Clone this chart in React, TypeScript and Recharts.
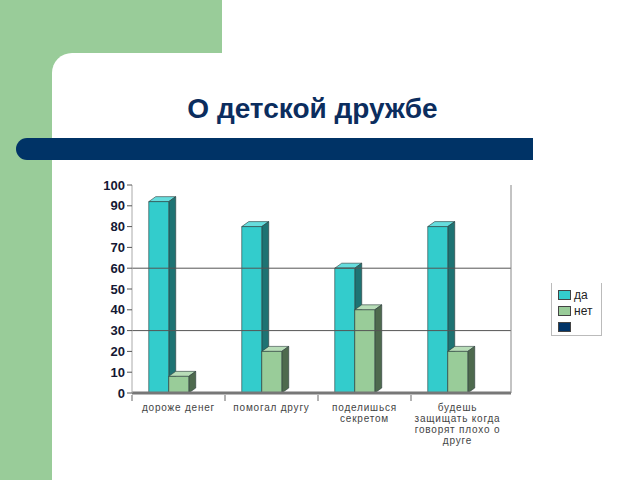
import { BarChart, Bar, XAxis, YAxis, ReferenceLine } from 'recharts';

const categories = [
  'дороже денег',
  'помогал другу',
  'поделишься\nсекретом',
  'будешь\nзащищать когда\nговорят плохо о\nдруге',
];
const yesValues = [92, 80, 60, 80];
const noValues = [8, 20, 40, 20];
const yTicks = [0, 10, 20, 30, 40, 50, 60, 70, 80, 90, 100];
const gridValues = [30, 60];

const SERIES = [
  { key: 'yes', name: 'да', front: '#33CCCC', top: '#66DDDD', side: '#1E7373' },
  { key: 'no', name: 'нет', front: '#99CC99', top: '#B8DDB8', side: '#4E6A4E' },
  { key: 'blank', name: '', front: '#003366', top: '#335C85', side: '#00203F' },
];

const data = categories.map((name, i) => ({
  name,
  yes: yesValues[i],
  no: noValues[i],
  blank: null,
}));

const DX = 7;
const DY = 5;

const make3D = (s: typeof SERIES[number]) => (props: any) => {
  const { x, y, width, height } = props;
  if (!height || height <= 0 || x == null) return null;
  const r = x + width;
  const b = y + height;
  return (
    <g stroke="#2a3a3a" strokeWidth={0.6} strokeLinejoin="round">
      <polygon points={`${x},${y} ${x + DX},${y - DY} ${r + DX},${y - DY} ${r},${y}`} fill={s.top} />
      <polygon points={`${r},${y} ${r + DX},${y - DY} ${r + DX},${b - DY} ${r},${b}`} fill={s.side} />
      <rect x={x} y={y} width={width} height={height} fill={s.front} />
    </g>
  );
};

const CategoryTick = ({ x, y, payload }: any) => {
  const lines = String(payload.value).split('\n');
  const edge = x - (payload.offset || 0);
  return (
    <g>
      <line x1={edge} x2={edge} y1={y - 6} y2={y} stroke="#666" strokeWidth={1} />
      <text x={x} y={y + 10} textAnchor="middle" fontSize={10} letterSpacing={0.8} fill="#444" fontFamily="Arial, 'Liberation Sans', sans-serif">
        {lines.map((l, i) => (
          <tspan key={i} x={x} dy={i === 0 ? 0 : 11}>{l}</tspan>
        ))}
      </text>
    </g>
  );
};

const LegendBox = () => (
  <div style={{
    position: 'absolute', left: 551, top: 283,
    border: '1px solid #bbb', borderTop: 'none', width: 51, height: 53, boxSizing: 'border-box',
    padding: '4px 0 0 6px', fontFamily: "Arial, 'Liberation Sans', sans-serif", fontSize: 12, color: '#222',
  }}>
    {SERIES.map((s) => (
      <div key={s.key} style={{ display: 'flex', alignItems: 'center', height: 16 }}>
        <div style={{ width: 11, height: 8, background: s.front, border: '0.5px solid #444', marginRight: 3 }} />
        <span>{s.name}</span>
      </div>
    ))}
  </div>
);

export default function App() {
  return (
    <div style={{ position: 'absolute', left: 0, top: 0, width: 640, height: 480, background: '#fff', overflow: 'hidden' }}>
      <div style={{ position: 'absolute', left: 0, top: 0, width: 222, height: 100, background: '#99CC99' }} />
      <div style={{ position: 'absolute', left: 0, top: 0, width: 52, height: 480, background: '#99CC99' }} />
      <div style={{ position: 'absolute', left: 52, top: 53, width: 200, height: 60, background: '#fff', borderTopLeftRadius: 20 }} />
      <div style={{
        position: 'absolute', left: 0, top: 93, width: 625, textAlign: 'center',
        fontFamily: "Arial, 'Liberation Sans', sans-serif", fontWeight: 'bold', fontSize: 28, color: '#0B2D5E',
      }}>О детской дружбе</div>
      <div style={{ position: 'absolute', left: 16, top: 138, width: 517, height: 22, background: '#003366', borderTopLeftRadius: 11, borderBottomLeftRadius: 11 }} />
      <BarChart
        width={640}
        height={480}
        data={data}
        margin={{ top: 185, right: 128, bottom: 27, left: 92 }}
        barCategoryGap="18%"
        barGap={0}
        style={{ position: 'absolute', left: 0, top: 0 }}
      >
        {gridValues.map((v) => (
          <ReferenceLine key={v} y={v} stroke="#555" strokeWidth={1} />
        ))}
        <XAxis
          dataKey="name"
          interval={0}
          height={60}
          padding={{ left: 0, right: 7 }}
          axisLine={{ stroke: '#777', strokeWidth: 3 }}
          tickLine={false}
          tick={<CategoryTick />}
        />
        <YAxis
          domain={[0, 100]}
          ticks={yTicks}
          width={40}
          interval={0}
          axisLine={{ stroke: '#aaa' }}
          tickLine={{ stroke: '#555' }}
          tickSize={5}
          tick={{ fontSize: 13, fontWeight: 'bold', fill: '#141833', fontFamily: "Arial, 'Liberation Sans', sans-serif" }}
        />
        <YAxis yAxisId="wall" orientation="right" width={1} tick={false} tickLine={false} axisLine={{ stroke: '#888' }} />
        {SERIES.map((s) => (
          <Bar key={s.key} dataKey={s.key} name={s.name} fill={s.front} isAnimationActive={false} shape={make3D(s)} />
        ))}
      </BarChart>
      <LegendBox />
    </div>
  );
}
